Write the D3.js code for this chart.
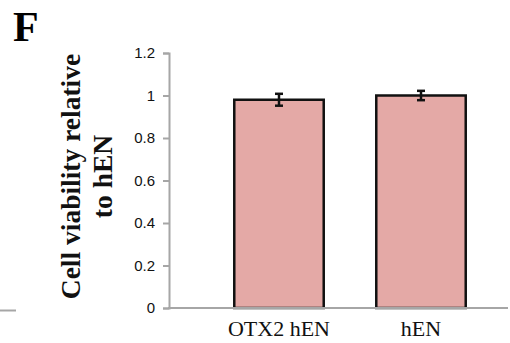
<!DOCTYPE html>
<html>
<head>
<meta charset="utf-8">
<script src="https://cdn.jsdelivr.net/npm/d3@7"></script>
<style>
  body { margin: 0; background: #fff; }
  svg { display: block; }
</style>
</head>
<body>
<div id="chart"></div>
<script>
const categories = ['OTX2 hEN', 'hEN'];
const values = [0.98, 1.0];
const errors = [0.028, 0.022];
const yTicks = [0, 0.2, 0.4, 0.6, 0.8, 1, 1.2];

const width = 510, height = 343;
const svg = d3.select('#chart').append('svg')
    .attr('width', width)
    .attr('height', height);

const y = d3.scaleLinear().domain([0, 1.2]).range([308, 53]);
const x = d3.scaleBand().domain(categories).range([208, 492]).paddingInner(0.37).paddingOuter(0.185);

// panel letter
svg.append('text')
    .attr('x', 13).attr('y', 41)
    .style('font-family', '"Liberation Serif", "Times New Roman", serif')
    .style('font-weight', 'bold')
    .style('font-size', '42px')
    .text('F');

// small stub line at left
svg.append('line')
    .attr('x1', 0).attr('x2', 16)
    .attr('y1', 310.5).attr('y2', 310.5)
    .style('stroke', '#a6a6a6').style('stroke-width', 2);

// y axis
const yAxis = svg.append('g')
    .attr('transform', 'translate(169,0)')
    .call(d3.axisLeft(y).tickValues(yTicks).tickSize(6).tickPadding(8).tickFormat(d3.format('')));
yAxis.select('.domain').style('stroke', '#a6a6a6').style('stroke-width', 2);
yAxis.selectAll('.tick line').style('stroke', '#a6a6a6').style('stroke-width', 2);
yAxis.selectAll('.tick text')
    .style('font-family', '"Liberation Sans", Arial, sans-serif')
    .style('font-size', '15px')
    .style('fill', '#111');

// bars
svg.selectAll('rect.bar')
    .data(values)
    .enter()
    .append('rect')
    .attr('class', 'bar')
    .attr('x', (d, i) => x(categories[i]))
    .attr('y', d => y(d))
    .attr('width', x.bandwidth())
    .attr('height', d => y(0) - y(d))
    .style('fill', '#e4a9a6')
    .style('stroke', '#111')
    .style('stroke-width', 2.5);

// x axis line
svg.append('line')
    .attr('x1', 168).attr('x2', 508)
    .attr('y1', y(0)).attr('y2', y(0))
    .style('stroke', '#a6a6a6').style('stroke-width', 2);

// error bars
const err = svg.selectAll('g.err')
    .data(values)
    .enter()
    .append('g')
    .attr('class', 'err')
    .attr('transform', (d, i) => 'translate(' + (x(categories[i]) + x.bandwidth() / 2) + ',0)');

err.append('line')
    .attr('y1', (d, i) => y(d + errors[i]))
    .attr('y2', (d, i) => y(d - errors[i]))
    .style('stroke', '#111').style('stroke-width', 2.5);
err.append('line')
    .attr('x1', -4).attr('x2', 4)
    .attr('y1', (d, i) => y(d + errors[i]))
    .attr('y2', (d, i) => y(d + errors[i]))
    .style('stroke', '#111').style('stroke-width', 2.5);
err.append('line')
    .attr('x1', -4).attr('x2', 4)
    .attr('y1', (d, i) => y(d - errors[i]))
    .attr('y2', (d, i) => y(d - errors[i]))
    .style('stroke', '#111').style('stroke-width', 2.5);

// x labels
svg.selectAll('text.xlab')
    .data(categories)
    .enter()
    .append('text')
    .attr('class', 'xlab')
    .attr('x', d => x(d) + x.bandwidth() / 2)
    .attr('y', 336)
    .attr('text-anchor', 'middle')
    .style('font-family', '"Liberation Serif", "Times New Roman", serif')
    .style('font-size', '22px')
    .style('fill', '#111')
    .text(d => d);

// y label
const ylab = svg.append('text')
    .attr('transform', 'translate(80,176.5)rotate(-90)')
    .attr('text-anchor', 'middle')
    .style('font-family', '"Liberation Serif", "Times New Roman", serif')
    .style('font-weight', 'bold')
    .style('font-size', '27.5px')
    .style('fill', '#111');
ylab.append('tspan').attr('x', 0).attr('y', 0).text('Cell viability relative');
ylab.append('tspan').attr('x', 0).attr('y', 32).text('to hEN');
</script>
</body>
</html>
